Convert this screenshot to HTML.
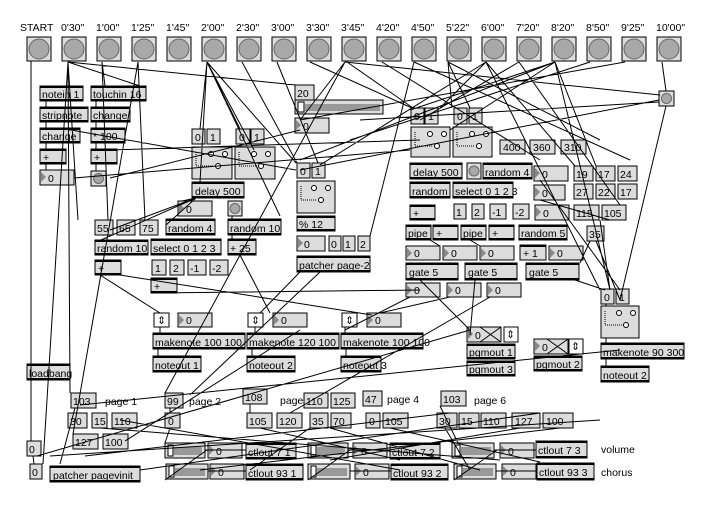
<!DOCTYPE html>
<html><head><meta charset="utf-8"><style>
html,body{margin:0;padding:0;background:#fff;width:711px;height:506px;overflow:hidden}
svg{display:block}
text{font-family:"Liberation Sans","DejaVu Sans",sans-serif;font-size:10.5px;fill:#000}
.hd{font-size:10.5px}
.b{fill:#dcdcdc;stroke:#000;stroke-width:1}
.o{fill:#dcdcdc;stroke:#000;stroke-width:1}
.bar{fill:#000}
.ln{stroke:#000;stroke-width:1;fill:none}
.tri{fill:#888}
.btn{fill:#a8a8a8;stroke:#666}
.gs circle{fill:#fff;stroke:#000}
.dot{stroke:#000;stroke-dasharray:1 1;fill:none}
</style></head><body>
<svg width="711" height="506" viewBox="0 0 711 506" xmlns="http://www.w3.org/2000/svg">
<g class="hd">
<text x="20" y="31">START</text><text x="61" y="31">0'30"</text><text x="96" y="31">1'00"</text><text x="131" y="31">1'25"</text><text x="166" y="31">1'45"</text><text x="201" y="31">2'00"</text><text x="236" y="31">2'30"</text><text x="271" y="31">3'00"</text><text x="306" y="31">3'30"</text><text x="341" y="31">3'45"</text><text x="376" y="31">4'20"</text><text x="411" y="31">4'50"</text><text x="446" y="31">5'22"</text><text x="481" y="31">6'00"</text><text x="516" y="31">7'20"</text><text x="551" y="31">8'20"</text><text x="586" y="31">8'50"</text><text x="621" y="31">9'25"</text><text x="656" y="31">10'00"</text>
</g>
<g>
<rect class="b" x="27" y="37" width="24" height="24"/><circle class="btn" cx="39" cy="49" r="10"/>
<rect class="b" x="62" y="37" width="24" height="24"/><circle class="btn" cx="74" cy="49" r="10"/>
<rect class="b" x="97" y="37" width="24" height="24"/><circle class="btn" cx="109" cy="49" r="10"/>
<rect class="b" x="132" y="37" width="24" height="24"/><circle class="btn" cx="144" cy="49" r="10"/>
<rect class="b" x="167" y="37" width="24" height="24"/><circle class="btn" cx="179" cy="49" r="10"/>
<rect class="b" x="202" y="37" width="24" height="24"/><circle class="btn" cx="214" cy="49" r="10"/>
<rect class="b" x="237" y="37" width="24" height="24"/><circle class="btn" cx="249" cy="49" r="10"/>
<rect class="b" x="272" y="37" width="24" height="24"/><circle class="btn" cx="284" cy="49" r="10"/>
<rect class="b" x="307" y="37" width="24" height="24"/><circle class="btn" cx="319" cy="49" r="10"/>
<rect class="b" x="342" y="37" width="24" height="24"/><circle class="btn" cx="354" cy="49" r="10"/>
<rect class="b" x="377" y="37" width="24" height="24"/><circle class="btn" cx="389" cy="49" r="10"/>
<rect class="b" x="412" y="37" width="24" height="24"/><circle class="btn" cx="424" cy="49" r="10"/>
<rect class="b" x="447" y="37" width="24" height="24"/><circle class="btn" cx="459" cy="49" r="10"/>
<rect class="b" x="482" y="37" width="24" height="24"/><circle class="btn" cx="494" cy="49" r="10"/>
<rect class="b" x="517" y="37" width="24" height="24"/><circle class="btn" cx="529" cy="49" r="10"/>
<rect class="b" x="552" y="37" width="24" height="24"/><circle class="btn" cx="564" cy="49" r="10"/>
<rect class="b" x="587" y="37" width="24" height="24"/><circle class="btn" cx="599" cy="49" r="10"/>
<rect class="b" x="622" y="37" width="24" height="24"/><circle class="btn" cx="634" cy="49" r="10"/>
<rect class="b" x="657" y="37" width="24" height="24"/><circle class="btn" cx="669" cy="49" r="10"/>
</g>
<g>
<rect class="o" x="40" y="86" width="43" height="15"/><rect class="bar" x="40" y="86" width="43" height="2"/><rect class="bar" x="40" y="99" width="43" height="2"/><text x="42" y="98">notein 1</text>
<rect class="o" x="91" y="86" width="55" height="15"/><rect class="bar" x="91" y="86" width="55" height="2"/><rect class="bar" x="91" y="99" width="55" height="2"/><text x="93" y="98">touchin 16</text>
<rect class="o" x="40" y="107" width="48" height="15"/><rect class="bar" x="40" y="107" width="48" height="2"/><rect class="bar" x="40" y="120" width="48" height="2"/><text x="42" y="119">stripnote</text>
<rect class="o" x="91" y="107" width="39" height="15"/><rect class="bar" x="91" y="107" width="39" height="2"/><rect class="bar" x="91" y="120" width="39" height="2"/><text x="93" y="119">change</text>
<rect class="o" x="40" y="128" width="40" height="15"/><rect class="bar" x="40" y="128" width="40" height="2"/><rect class="bar" x="40" y="141" width="40" height="2"/><text x="42" y="140">change</text>
<rect class="o" x="91" y="128" width="34" height="15"/><rect class="bar" x="91" y="128" width="34" height="2"/><rect class="bar" x="91" y="141" width="34" height="2"/><text x="93" y="140">* 100</text>
<rect class="o" x="40" y="149" width="26" height="15"/><rect class="bar" x="40" y="149" width="26" height="2"/><rect class="bar" x="40" y="162" width="26" height="2"/><text x="43" y="161">+</text>
<rect class="o" x="91" y="149" width="26" height="15"/><rect class="bar" x="91" y="149" width="26" height="2"/><rect class="bar" x="91" y="162" width="26" height="2"/><text x="94" y="161">+</text>
<rect class="o" x="40" y="170" width="34" height="15"/><path class="tri" d="M41 172 L46 177 L41 182Z"/><text x="48" y="182">0</text>
<rect class="b" x="91" y="171" width="15" height="15"/><circle class="btn" cx="98.5" cy="178.5" r="5"/>

<rect class="o" x="192" y="129" width="13" height="15"/><text x="195" y="141">0</text>
<rect class="o" x="207" y="129" width="13" height="15"/><text x="210" y="141">1</text>
<rect class="o" x="236" y="129" width="14" height="15"/><text x="239" y="141">0</text>
<rect class="o" x="251" y="129" width="13" height="15"/><text x="254" y="141">1</text>
<g class="gs">
<rect class="o" x="192" y="147" width="40" height="32"/><circle cx="211" cy="154" r="2.5"/><circle cx="225" cy="154" r="2.5"/><circle cx="218" cy="166" r="2.5"/><path class="dot" d="M196 152 L196 166 L214 166"/>
<rect class="o" x="235" y="147" width="40" height="32"/><circle cx="254" cy="154" r="2.5"/><circle cx="268" cy="154" r="2.5"/><circle cx="261" cy="166" r="2.5"/><path class="dot" d="M239 152 L239 166 L257 166"/>
<rect class="o" x="297" y="181" width="38" height="32"/><circle cx="314" cy="188" r="2.5"/><circle cx="328" cy="188" r="2.5"/><circle cx="321" cy="200" r="2.5"/><path class="dot" d="M301 186 L301 200 L317 200"/>
<rect class="o" x="411" y="127" width="39" height="30"/><circle cx="430" cy="134" r="2.5"/><circle cx="444" cy="134" r="2.5"/><circle cx="437" cy="146" r="2.5"/><path class="dot" d="M415 132 L415 146 L433 146"/>
<rect class="o" x="453" y="127" width="39" height="30"/><circle cx="472" cy="134" r="2.5"/><circle cx="486" cy="134" r="2.5"/><circle cx="479" cy="146" r="2.5"/><path class="dot" d="M457 132 L457 146 L475 146"/>
<rect class="o" x="601" y="306" width="38" height="32"/><circle cx="619" cy="313" r="2.5"/><circle cx="633" cy="313" r="2.5"/><circle cx="626" cy="325" r="2.5"/><path class="dot" d="M605 311 L605 325 L622 325"/>
</g>
<rect class="o" x="192" y="182" width="52" height="16"/><rect class="bar" x="192" y="182" width="52" height="2"/><rect class="bar" x="192" y="196" width="52" height="2"/><text x="195" y="195">delay 500</text>
<rect class="o" x="178" y="201" width="34" height="15"/><path class="tri" d="M179 203 L184 208 L179 213Z"/><text x="186" y="213">0</text>
<rect class="b" x="228" y="201" width="14" height="15"/><circle class="btn" cx="235" cy="208.5" r="5"/>
<rect class="o" x="95" y="220" width="18" height="15"/><text x="97" y="232">55</text>
<rect class="o" x="117" y="220" width="18" height="15"/><text x="119" y="232">65</text>
<rect class="o" x="140" y="220" width="18" height="15"/><text x="142" y="232">75</text>
<rect class="o" x="166" y="219" width="49" height="16"/><rect class="bar" x="166" y="219" width="49" height="2"/><rect class="bar" x="166" y="233" width="49" height="2"/><text x="168" y="232">random 4</text>
<rect class="o" x="228" y="219" width="53" height="16"/><rect class="bar" x="228" y="219" width="53" height="2"/><rect class="bar" x="228" y="233" width="53" height="2"/><text x="230" y="232">random 10</text>
<rect class="o" x="95" y="240" width="53" height="15"/><rect class="bar" x="95" y="240" width="53" height="2"/><rect class="bar" x="95" y="253" width="53" height="2"/><text x="97" y="252">random 10</text>
<rect class="o" x="151" y="239" width="70" height="16"/><rect class="bar" x="151" y="239" width="70" height="2"/><rect class="bar" x="151" y="253" width="70" height="2"/><text x="153" y="252">select 0 1 2 3</text>
<rect class="o" x="228" y="239" width="28" height="16"/><rect class="bar" x="228" y="239" width="28" height="2"/><rect class="bar" x="228" y="253" width="28" height="2"/><text x="230" y="252">+ 25</text>
<rect class="o" x="95" y="260" width="26" height="15"/><rect class="bar" x="95" y="260" width="26" height="2"/><rect class="bar" x="95" y="273" width="26" height="2"/><text x="98" y="272">+</text>
<rect class="o" x="152" y="260" width="14" height="15"/><text x="155" y="272">1</text>
<rect class="o" x="170" y="260" width="14" height="15"/><text x="173" y="272">2</text>
<rect class="o" x="188" y="260" width="18" height="15"/><text x="190" y="272">-1</text>
<rect class="o" x="210" y="260" width="18" height="15"/><text x="212" y="272">-2</text>
<rect class="o" x="151" y="278" width="26" height="15"/><rect class="bar" x="151" y="278" width="26" height="2"/><rect class="bar" x="151" y="291" width="26" height="2"/><text x="154" y="290">+</text>

<rect class="o" x="295" y="85" width="19" height="15"/><text x="297" y="97">20</text>
<rect class="o" x="295" y="100" width="88" height="14"/><rect x="305" y="104" width="75" height="7" fill="#999"/><rect x="298" y="102" width="6" height="10" fill="#fff" stroke="#000"/>
<rect class="o" x="295" y="118" width="34" height="15"/><path class="tri" d="M296 120 L301 125 L296 130Z"/><text x="303" y="130">0</text>
<rect class="o" x="297" y="163" width="13" height="15"/><text x="300" y="175">0</text>
<rect class="o" x="312" y="163" width="13" height="15"/><text x="315" y="175">1</text>
<rect class="o" x="297" y="216" width="38" height="15"/><rect class="bar" x="297" y="216" width="38" height="2"/><rect class="bar" x="297" y="229" width="38" height="2"/><text x="299" y="228">% 12</text>
<rect class="o" x="297" y="236" width="28" height="15"/><path class="tri" d="M298 238 L303 243 L298 248Z"/><text x="304" y="248">0</text>
<rect class="o" x="329" y="236" width="12" height="15"/><text x="331" y="248">0</text>
<rect class="o" x="343" y="236" width="12" height="15"/><text x="345" y="248">1</text>
<rect class="o" x="358" y="236" width="12" height="15"/><text x="360" y="248">2</text>
<rect class="o" x="297" y="256" width="73" height="16"/><rect class="bar" x="297" y="256" width="73" height="2"/><rect class="bar" x="297" y="270" width="73" height="2"/><text x="299" y="269">patcher page-2</text>

<rect class="b" x="659" y="91" width="15" height="15"/><circle class="btn" cx="666.5" cy="98.5" r="5"/>

<rect class="o" x="411" y="108" width="13" height="16"/><text x="414" y="120">0</text>
<rect class="o" x="425" y="108" width="13" height="16"/><text x="428" y="120">1</text>
<rect class="o" x="454" y="108" width="13" height="16"/><text x="457" y="120">0</text>
<rect class="o" x="469" y="108" width="13" height="16"/><text x="472" y="120">1</text>
<rect class="o" x="500" y="140" width="25" height="14"/><text x="503" y="151">400</text>
<rect class="o" x="530" y="140" width="25" height="14"/><text x="533" y="151">360</text>
<rect class="o" x="561" y="140" width="25" height="14"/><text x="564" y="151">310</text>
<rect class="o" x="410" y="163" width="52" height="16"/><rect class="bar" x="410" y="163" width="52" height="2"/><rect class="bar" x="410" y="177" width="52" height="2"/><text x="413" y="176">delay 500</text>
<rect class="b" x="467" y="163" width="14" height="16"/><circle class="btn" cx="474" cy="171" r="5"/>
<rect class="o" x="483" y="163" width="49" height="16"/><rect class="bar" x="483" y="163" width="49" height="2"/><rect class="bar" x="483" y="177" width="49" height="2"/><text x="485" y="176">random 4</text>
<rect class="o" x="534" y="166" width="34" height="15"/><path class="tri" d="M535 168 L540 173 L535 178Z"/><text x="542" y="178">0</text>
<rect class="o" x="574" y="166" width="19" height="15"/><text x="576" y="178">19</text>
<rect class="o" x="596" y="166" width="19" height="15"/><text x="598" y="178">17</text>
<rect class="o" x="618" y="166" width="19" height="15"/><text x="620" y="178">24</text>
<rect class="o" x="410" y="182" width="40" height="16"/><rect class="bar" x="410" y="182" width="40" height="2"/><rect class="bar" x="410" y="196" width="40" height="2"/><text x="412" y="195">random</text>
<rect class="o" x="453" y="182" width="60" height="16"/><rect class="bar" x="453" y="182" width="60" height="2"/><rect class="bar" x="453" y="196" width="60" height="2"/><text x="455" y="195">select 0 1 2 3</text>
<rect class="o" x="534" y="185" width="31" height="15"/><path class="tri" d="M535 187 L540 192 L535 197Z"/><text x="542" y="197">0</text>
<rect class="o" x="574" y="184" width="19" height="15"/><text x="576" y="196">27</text>
<rect class="o" x="596" y="184" width="19" height="15"/><text x="598" y="196">22</text>
<rect class="o" x="618" y="184" width="19" height="15"/><text x="620" y="196">17</text>
<rect class="o" x="410" y="205" width="25" height="15"/><rect class="bar" x="410" y="205" width="25" height="2"/><rect class="bar" x="410" y="218" width="25" height="2"/><text x="413" y="217">+</text>
<rect class="o" x="454" y="204" width="12" height="15"/><text x="456" y="216">1</text>
<rect class="o" x="472" y="204" width="12" height="15"/><text x="474" y="216">2</text>
<rect class="o" x="490" y="204" width="16" height="15"/><text x="492" y="216">-1</text>
<rect class="o" x="513" y="204" width="16" height="15"/><text x="515" y="216">-2</text>
<rect class="o" x="535" y="205" width="34" height="15"/><path class="tri" d="M536 207 L541 212 L536 217Z"/><text x="543" y="217">0</text>
<rect class="o" x="574" y="205" width="25" height="15"/><text x="576" y="217">115</text>
<rect class="o" x="602" y="205" width="24" height="15"/><text x="604" y="217">105</text>
<rect class="o" x="406" y="225" width="25" height="15"/><rect class="bar" x="406" y="225" width="25" height="2"/><rect class="bar" x="406" y="238" width="25" height="2"/><text x="408" y="237">pipe</text>
<rect class="o" x="433" y="225" width="25" height="15"/><rect class="bar" x="433" y="225" width="25" height="2"/><rect class="bar" x="433" y="238" width="25" height="2"/><text x="436" y="237">+</text>
<rect class="o" x="461" y="225" width="25" height="15"/><rect class="bar" x="461" y="225" width="25" height="2"/><rect class="bar" x="461" y="238" width="25" height="2"/><text x="463" y="237">pipe</text>
<rect class="o" x="489" y="225" width="25" height="15"/><rect class="bar" x="489" y="225" width="25" height="2"/><rect class="bar" x="489" y="238" width="25" height="2"/><text x="492" y="237">+</text>
<rect class="o" x="519" y="225" width="48" height="15"/><rect class="bar" x="519" y="225" width="48" height="2"/><rect class="bar" x="519" y="238" width="48" height="2"/><text x="521" y="237">random 5</text>
<rect class="o" x="587" y="226" width="17" height="15"/><text x="589" y="238">35</text>
<rect class="o" x="406" y="246" width="34" height="14"/><path class="tri" d="M407 248 L412 253 L407 258Z"/><text x="414" y="257">0</text>
<rect class="o" x="443" y="246" width="34" height="14"/><path class="tri" d="M444 248 L449 253 L444 258Z"/><text x="451" y="257">0</text>
<rect class="o" x="480" y="246" width="34" height="14"/><path class="tri" d="M481 248 L486 253 L481 258Z"/><text x="488" y="257">0</text>
<rect class="o" x="520" y="245" width="26" height="15"/><rect class="bar" x="520" y="245" width="26" height="2"/><text x="523" y="257">+ 1</text>
<rect class="o" x="549" y="246" width="34" height="14"/><path class="tri" d="M550 248 L555 253 L550 258Z"/><text x="557" y="257">0</text>
<rect class="o" x="406" y="263" width="52" height="17"/><rect class="bar" x="406" y="263" width="52" height="2"/><rect class="bar" x="406" y="278" width="52" height="2"/><text x="409" y="276">gate 5</text>
<rect class="o" x="465" y="263" width="52" height="17"/><rect class="bar" x="465" y="263" width="52" height="2"/><rect class="bar" x="465" y="278" width="52" height="2"/><text x="468" y="276">gate 5</text>
<rect class="o" x="526" y="263" width="53" height="17"/><rect class="bar" x="526" y="263" width="53" height="2"/><rect class="bar" x="526" y="278" width="53" height="2"/><text x="529" y="276">gate 5</text>
<rect class="o" x="406" y="283" width="34" height="14"/><path class="tri" d="M407 285 L412 290 L407 295Z"/><text x="414" y="294">0</text>
<rect class="o" x="447" y="283" width="34" height="14"/><path class="tri" d="M448 285 L453 290 L448 295Z"/><text x="455" y="294">0</text>
<rect class="o" x="487" y="283" width="34" height="14"/><path class="tri" d="M488 285 L493 290 L488 295Z"/><text x="495" y="294">0</text>
<rect class="o" x="601" y="289" width="13" height="15"/><text x="604" y="301">0</text>
<rect class="o" x="616" y="289" width="13" height="15"/><text x="619" y="301">1</text>
<rect class="o" x="601" y="343" width="83" height="16"/><rect class="bar" x="601" y="343" width="83" height="2"/><rect class="bar" x="601" y="357" width="83" height="2"/><text x="603" y="356">makenote 90 300</text>
<rect class="o" x="601" y="366" width="48" height="16"/><rect class="bar" x="601" y="366" width="48" height="2"/><rect class="bar" x="601" y="380" width="48" height="2"/><text x="603" y="379">noteout 2</text>

<rect fill="#fff" stroke="#000" x="154" y="313" width="15" height="14"/><text x="157" y="324" font-size="9">⇕</text>
<rect class="o" x="178" y="313" width="34" height="14"/><path class="tri" d="M179 315 L184 320 L179 325Z"/><text x="186" y="324">0</text>
<rect fill="#fff" stroke="#000" x="248" y="313" width="15" height="14"/><text x="251" y="324" font-size="9">⇕</text>
<rect class="o" x="273" y="313" width="34" height="14"/><path class="tri" d="M274 315 L279 320 L274 325Z"/><text x="281" y="324">0</text>
<rect fill="#fff" stroke="#000" x="342" y="313" width="15" height="14"/><text x="345" y="324" font-size="9">⇕</text>
<rect class="o" x="367" y="313" width="34" height="14"/><path class="tri" d="M368 315 L373 320 L368 325Z"/><text x="375" y="324">0</text>
<rect class="o" x="153" y="333" width="92" height="16"/><rect class="bar" x="153" y="333" width="92" height="2"/><rect class="bar" x="153" y="347" width="92" height="2"/><text x="155" y="346">makenote 100 100</text>
<rect class="o" x="247" y="333" width="92" height="16"/><rect class="bar" x="247" y="333" width="92" height="2"/><rect class="bar" x="247" y="347" width="92" height="2"/><text x="249" y="346">makenote 120 100</text>
<rect class="o" x="341" y="333" width="82" height="16"/><rect class="bar" x="341" y="333" width="82" height="2"/><rect class="bar" x="341" y="347" width="82" height="2"/><text x="343" y="346">makenote 100 100</text>
<rect class="o" x="153" y="356" width="48" height="16"/><rect class="bar" x="153" y="356" width="48" height="2"/><rect class="bar" x="153" y="370" width="48" height="2"/><text x="155" y="369">noteout 1</text>
<rect class="o" x="247" y="356" width="48" height="16"/><rect class="bar" x="247" y="356" width="48" height="2"/><rect class="bar" x="247" y="370" width="48" height="2"/><text x="249" y="369">noteout 2</text>
<rect class="o" x="341" y="356" width="40" height="16"/><rect class="bar" x="341" y="356" width="40" height="2"/><rect class="bar" x="341" y="370" width="40" height="2"/><text x="343" y="369">noteout 3</text>

<rect class="o" x="467" y="327" width="34" height="15"/><path class="tri" d="M468 329 L473 334 L468 339Z"/><text x="475" y="339">0</text><path class="ln" d="M480 327 L501 342 M480 342 L501 327"/>
<rect fill="#fff" stroke="#000" x="504" y="327" width="14" height="15"/><text x="506" y="338" font-size="9">⇕</text>
<rect class="o" x="467" y="344" width="48" height="15"/><rect class="bar" x="467" y="344" width="48" height="2"/><rect class="bar" x="467" y="357" width="48" height="2"/><text x="469" y="356">pgmout 1</text>
<rect class="o" x="467" y="361" width="48" height="15"/><rect class="bar" x="467" y="361" width="48" height="2"/><rect class="bar" x="467" y="374" width="48" height="2"/><text x="469" y="373">pgmout 3</text>
<rect class="o" x="534" y="339" width="34" height="15"/><path class="tri" d="M535 341 L540 346 L535 351Z"/><text x="542" y="351">0</text><path class="ln" d="M547 339 L568 354 M547 354 L568 339"/>
<rect fill="#fff" stroke="#000" x="569" y="339" width="14" height="15"/><text x="571" y="350" font-size="9">⇕</text>
<rect class="o" x="534" y="356" width="48" height="15"/><rect class="bar" x="534" y="356" width="48" height="2"/><rect class="bar" x="534" y="369" width="48" height="2"/><text x="536" y="368">pgmout 2</text>

<rect class="o" x="27" y="364" width="43" height="16"/><rect class="bar" x="27" y="364" width="43" height="2"/><rect class="bar" x="27" y="378" width="43" height="2"/><text x="29" y="377">loadbang</text>

<rect class="o" x="71" y="393" width="25" height="15"/><text x="73" y="405">103</text><text x="105" y="405">page 1</text>
<rect class="o" x="165" y="393" width="18" height="15"/><text x="167" y="405">99</text><text x="189" y="405">page 2</text>
<rect class="o" x="243" y="389" width="24" height="15"/><text x="245" y="401">108</text><text x="280" y="404">page</text>
<rect class="o" x="304" y="393" width="24" height="15"/><text x="306" y="405">110</text>
<rect class="o" x="331" y="393" width="24" height="15"/><text x="333" y="405">125</text>
<rect class="o" x="363" y="391" width="19" height="15"/><text x="365" y="403">47</text><text x="387" y="403">page 4</text>
<rect class="o" x="441" y="391" width="25" height="15"/><text x="443" y="403">103</text><text x="474" y="404">page 6</text>
<rect class="o" x="68" y="413" width="19" height="15"/><text x="70" y="425">30</text>
<rect class="o" x="92" y="413" width="15" height="15"/><text x="94" y="425">15</text>
<rect class="o" x="112" y="413" width="25" height="15"/><text x="114" y="425">110</text>
<rect class="o" x="165" y="413" width="15" height="15"/><text x="168" y="425">0</text>
<rect class="o" x="247" y="413" width="25" height="15"/><text x="249" y="425">105</text>
<rect class="o" x="277" y="413" width="25" height="15"/><text x="279" y="425">120</text>
<rect class="o" x="310" y="413" width="18" height="15"/><text x="312" y="425">35</text>
<rect class="o" x="331" y="413" width="20" height="15"/><text x="333" y="425">70</text>
<rect class="o" x="366" y="413" width="14" height="15"/><text x="369" y="425">0</text>
<rect class="o" x="383" y="413" width="25" height="15"/><text x="385" y="425">105</text>
<rect class="o" x="437" y="413" width="20" height="15"/><text x="439" y="425">30</text>
<rect class="o" x="459" y="413" width="20" height="15"/><text x="461" y="425">15</text>
<rect class="o" x="481" y="413" width="25" height="15"/><text x="483" y="425">110</text>
<rect class="o" x="512" y="413" width="28" height="15"/><text x="515" y="425">127</text>
<rect class="o" x="543" y="413" width="30" height="15"/><text x="546" y="425">100</text>
<rect class="o" x="73" y="434" width="25" height="15"/><text x="75" y="446">127</text>
<rect class="o" x="103" y="434" width="25" height="15"/><text x="105" y="446">100</text>

<rect class="o" x="27" y="441" width="14" height="15"/><text x="29" y="453">0</text>
<rect class="o" x="30" y="464" width="12" height="15"/><text x="32" y="476">0</text>
<rect class="o" x="50" y="466" width="90" height="16"/><rect class="bar" x="50" y="466" width="90" height="2"/><rect class="bar" x="50" y="480" width="90" height="2"/><text x="53" y="479">patcher pagevinit</text>

<rect class="o" x="165" y="443" width="40" height="15"/><rect x="174" y="447" width="28" height="8" fill="#999"/><rect x="168" y="445" width="5" height="11" fill="#fff" stroke="#000"/>
<rect class="o" x="208" y="443" width="34" height="15"/><path class="tri" d="M209 445 L214 450 L209 455Z"/><text x="216" y="455">0</text>
<rect class="o" x="246" y="443" width="50" height="16"/><rect class="bar" x="246" y="443" width="50" height="2"/><rect class="bar" x="246" y="457" width="50" height="2"/><text x="248" y="456">ctlout 7 1</text>
<rect class="o" x="308" y="443" width="40" height="15"/><rect x="317" y="447" width="28" height="8" fill="#999"/><rect x="311" y="445" width="5" height="11" fill="#fff" stroke="#000"/>
<rect class="o" x="353" y="443" width="34" height="15"/><path class="tri" d="M354 445 L359 450 L354 455Z"/><text x="361" y="455">0</text>
<rect class="o" x="390" y="443" width="50" height="16"/><rect class="bar" x="390" y="443" width="50" height="2"/><rect class="bar" x="390" y="457" width="50" height="2"/><text x="392" y="456">ctlout 7 2</text>
<rect class="o" x="452" y="443" width="42" height="15"/><rect x="461" y="447" width="30" height="8" fill="#999"/><rect x="455" y="445" width="5" height="11" fill="#fff" stroke="#000"/>
<rect class="o" x="500" y="443" width="34" height="15"/><path class="tri" d="M501 445 L506 450 L501 455Z"/><text x="508" y="455">0</text>
<rect class="o" x="536" y="441" width="51" height="17"/><rect class="bar" x="536" y="441" width="51" height="2"/><rect class="bar" x="536" y="456" width="51" height="2"/><text x="538" y="454">ctlout 7 3</text>
<text x="601" y="453">volume</text>

<rect class="o" x="166" y="464" width="42" height="15"/><rect x="175" y="468" width="30" height="8" fill="#999"/><rect x="169" y="466" width="5" height="11" fill="#fff" stroke="#000"/>
<rect class="o" x="210" y="464" width="34" height="15"/><path class="tri" d="M211 466 L216 471 L211 476Z"/><text x="218" y="476">0</text>
<rect class="o" x="246" y="464" width="57" height="16"/><rect class="bar" x="246" y="464" width="57" height="2"/><rect class="bar" x="246" y="478" width="57" height="2"/><text x="248" y="477">ctlout 93 1</text>
<rect class="o" x="308" y="464" width="42" height="15"/><rect x="317" y="468" width="30" height="8" fill="#999"/><rect x="311" y="466" width="5" height="11" fill="#fff" stroke="#000"/>
<rect class="o" x="355" y="464" width="34" height="15"/><path class="tri" d="M356 466 L361 471 L356 476Z"/><text x="363" y="476">0</text>
<rect class="o" x="391" y="464" width="57" height="16"/><rect class="bar" x="391" y="464" width="57" height="2"/><rect class="bar" x="391" y="478" width="57" height="2"/><text x="393" y="477">ctlout 93 2</text>
<rect class="o" x="454" y="464" width="42" height="15"/><rect x="463" y="468" width="30" height="8" fill="#999"/><rect x="457" y="466" width="5" height="11" fill="#fff" stroke="#000"/>
<rect class="o" x="502" y="464" width="34" height="15"/><path class="tri" d="M503 466 L508 471 L503 476Z"/><text x="510" y="476">0</text>
<rect class="o" x="537" y="463" width="57" height="17"/><rect class="bar" x="537" y="463" width="57" height="2"/><rect class="bar" x="537" y="478" width="57" height="2"/><text x="539" y="476">ctlout 93 3</text>
<text x="601" y="476">chorus</text>
</g>
<path class="ln" d="
M31 61 L31 441 M33 456 L34 464
M68 62 L70 393 M68 62 L78 220 M68 62 L296 85 M68 62 L140 86 M68 62 L43 464
M102 62 L108 220 M102 62 L105 86
M138 62 L145 220 M138 62 L73 434
M207 62 L200 129 M207 62 L240 129 M207 62 L296 163 M207 62 L254 150 M207 62 L200 182 M207 62 L280 216
M242 62 L297 163 M277 62 L318 163 M310 62 L412 108
M345 62 L300 120 M345 62 L165 393 M345 62 L660 95 M347 62 L413 108
M382 62 L456 108 M382 62 L540 160
M414 62 L370 236 M414 62 L630 160
M448 62 L452 108 M448 62 L470 108 M448 62 L600 140
M486 62 L440 108 M486 62 L575 166 M486 62 L320 165 M486 62 L600 290
M519 62 L620 205 M519 62 L420 120
M555 62 L410 110 M555 62 L300 160 M555 62 L596 166 M555 62 L610 290 M555 62 L450 130
M590 62 L350 140 M625 62 L300 120
M662 62 L666 91 M666 106 L620 300 M659 100 L300 170 M659 102 L360 120
M46 101 L46 107 M46 122 L46 128 M46 143 L46 149 M46 164 L46 170
M96 101 L96 107 M96 122 L96 128 M96 143 L96 149 M96 164 L96 171
M60 128 L296 170 M110 150 L420 140 M110 178 L300 130 M74 178 L410 150
M196 198 L182 201 M196 198 L101 240 M196 198 L166 225 M196 198 L110 230
M232 216 L232 219 M232 235 L232 239
M100 275 L160 313 M120 275 L372 315 M155 293 L420 290
M160 327 L160 333 M255 327 L255 333 M345 327 L345 333
M158 349 L158 356 M252 349 L252 356 M346 349 L346 356
M300 272 L260 313 M320 272 L190 395
M240 255 L270 313
M410 297 L345 330 M450 297 L380 313 M490 297 L290 413 M575 280 L605 290
M420 280 L470 330 M475 280 L470 335
M50 456 L600 420 M85 456 L450 413 M140 470 L540 413
M170 408 L170 413 M170 428 L165 443
M75 408 L60 464 M250 404 L250 413
M100 428 L500 460 M120 420 L400 470 M260 428 L400 460
M330 428 L480 470 M390 428 L540 462 M310 428 L250 470
M440 406 L458 443 M445 428 L470 470 M520 428 L330 460 M560 428 L200 470
M207 450 L165 480 M350 450 L308 480 M497 450 L454 480
M205 450 L246 450 M348 450 L390 450 M494 450 L536 450
M208 471 L246 471 M350 471 L391 471 M496 471 L537 471
M80 405 L620 350 M125 441 L300 330 M37 456 L470 330
M606 304 L606 306 M606 338 L606 343 M606 359 L606 366
M590 241 L580 263 M596 241 L620 300 M600 220 L610 290
M540 180 L620 290 M540 200 L610 220
M430 240 L440 246 M470 240 L480 246
" />
</svg>
</body></html>
